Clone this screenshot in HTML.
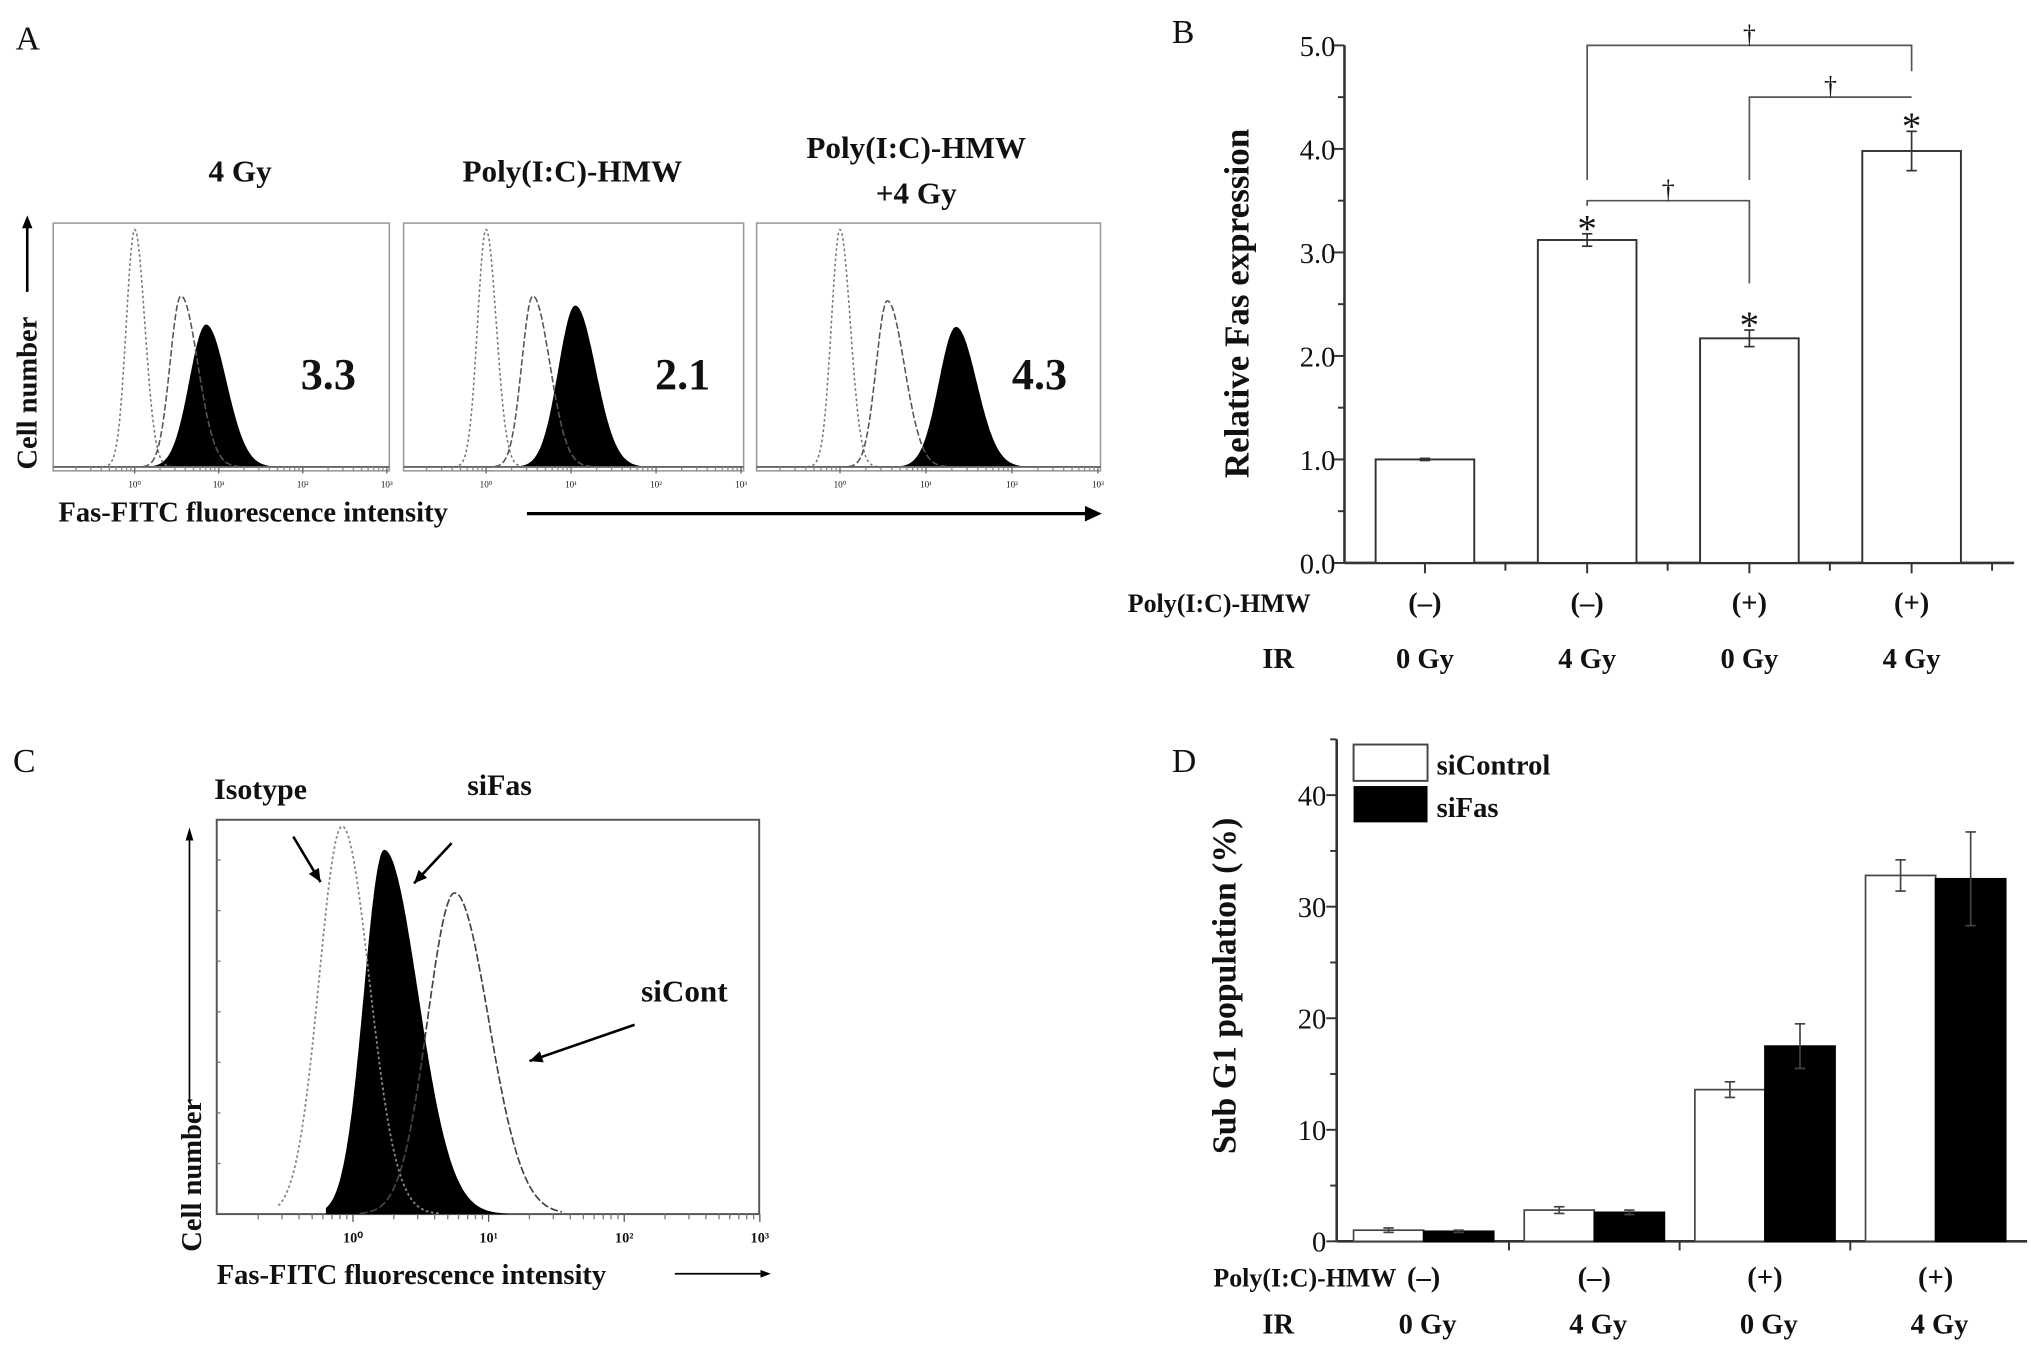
<!DOCTYPE html>
<html><head><meta charset="utf-8"><style>
html,body{margin:0;padding:0;background:#fff}
svg{display:block}
text{font-family:"Liberation Serif",serif;fill:#111}
.b{font-weight:bold}
</style></head><body>
<svg id="fig" width="2031" height="1349" viewBox="0 0 1565 1040" preserveAspectRatio="none" xmlns="http://www.w3.org/2000/svg">
<g id="pA">
<text x="12" y="38" font-size="26">A</text>
<text class="b" x="185" y="140" font-size="24" text-anchor="middle">4 Gy</text>
<text class="b" x="441" y="140" font-size="24" text-anchor="middle">Poly(I:C)-HMW</text>
<text class="b" x="706" y="122" font-size="24" text-anchor="middle">Poly(I:C)-HMW</text>
<text class="b" x="706" y="157" font-size="24" text-anchor="middle">+4 Gy</text>
<text class="b" x="0" y="0" font-size="22" transform="translate(28,362) rotate(-90)">Cell number</text>
<line x1="21" y1="225" x2="21" y2="172" stroke="#000" stroke-width="2"/>
<polygon points="17,176 25,176 21,166" fill="#000"/>
<text class="b" x="45" y="402" font-size="22">Fas-FITC fluorescence intensity</text>
<line x1="406" y1="396" x2="838" y2="396" stroke="#000" stroke-width="2.5"/>
<polygon points="836,390 836,402 849,396" fill="#000"/>
</g>
<g id="pB">
<text x="903" y="33" font-size="26">B</text>
<text class="b" x="0" y="0" font-size="27" text-anchor="middle" transform="translate(962,234) rotate(-90)">Relative Fas expression</text>
</g>
<g id="pC">
<text x="10" y="595" font-size="26">C</text>
<text class="b" x="0" y="0" font-size="22" transform="translate(155,965) rotate(-90)">Cell number</text>
<line x1="146" y1="850" x2="146" y2="646" stroke="#000" stroke-width="1.3"/>
<polygon points="143,648 149,648 146,638" fill="#000"/>
<text class="b" x="167" y="990" font-size="22">Fas-FITC fluorescence intensity</text>
<line x1="520" y1="982" x2="588" y2="982" stroke="#000" stroke-width="1.3"/>
<polygon points="586,979 586,985 594,982" fill="#000"/>
</g>
<g id="pD">
<text x="903" y="595" font-size="26">D</text>
<text class="b" x="0" y="0" font-size="26" text-anchor="middle" transform="translate(952,760) rotate(-90)">Sub G1 population (%)</text>
<rect x="1043" y="574" width="57" height="28" fill="#fff" stroke="#444" stroke-width="1.5"/>
<rect x="1043" y="606" width="57" height="28" fill="#000"/>
<text class="b" x="1107" y="597" font-size="22">siControl</text>
<text class="b" x="1107" y="630" font-size="22">siFas</text>
</g>
</svg>
<script>
const NS='http://www.w3.org/2000/svg';
function mk(p,tag,at,txt){const e=document.createElementNS(NS,tag);for(const k in at)e.setAttribute(k,at[k]);if(txt!==undefined)e.textContent=txt;p.appendChild(e);return e;}

// ---------- Panel B data ----------
const bCats=['1','2','3','4'];
const bPoly=['(–)','(–)','(+)','(+)'];
const bIR=['0 Gy','4 Gy','0 Gy','4 Gy'];
const bValues=[1.0,3.12,2.17,3.98];
const bErrors=[0.01,0.06,0.08,0.19];
const bTicks=['0.0','1.0','2.0','3.0','4.0','5.0'];
// ---------- Panel D data ----------
const dPoly=['(–)','(–)','(+)','(+)'];
const dIR=['0 Gy','4 Gy','0 Gy','4 Gy'];
const dControl=[1.0,2.8,13.6,32.8];
const dControlErr=[0.2,0.3,0.7,1.4];
const dFas=[0.9,2.6,17.5,32.5];
const dFasErr=[0.1,0.2,2.0,4.2];
const dTicks=[0,10,20,30,40];
// ---------- Panel A histogram peaks (log10 intensity, relative height) ----------
const aIsoPeak=[0.0,0.0,0.0];
const aIsoHeight=[1.0,1.0,1.0];
const aCtrlPeak=[0.55,0.55,0.55];
const aCtrlHeight=[0.72,0.72,0.7];
const aTreatPeak=[0.85,1.05,1.35];
const aTreatHeight=[0.6,0.68,0.59];
const aValues=['3.3','2.1','4.3'];
// ---------- Panel C histogram peaks ----------
const cIsoPeak=-0.08, cIsoHeight=0.99;
const cFasPeak=0.23, cFasHeight=0.93;
const cContPeak=0.75, cContHeight=0.82;

// Panel B
(function(){
 const g=document.getElementById('pB');
 const x0=1036,x1=1552,y0=434,yTop=35,vmax=5;
 const ys=v=>y0-(v/vmax)*(y0-yTop);
 const labX=i=>1098+i*125;
 mk(g,'line',{x1:x0,y1:y0,x2:x0,y2:yTop,stroke:'#333','stroke-width':2});
 mk(g,'line',{x1:x0,y1:y0,x2:x1,y2:y0,stroke:'#333','stroke-width':2});
 for(let i=0;i<=10;i++){const v=i*0.5;const y=ys(v);mk(g,'line',{x1:x0,y1:y,x2:x0-(i%2?5:8),y2:y,stroke:'#333','stroke-width':1.5});}
 bTicks.forEach(t=>{const el=mk(g,'text',{x:x0-7,y:ys(parseFloat(t))+8,'font-size':22,'text-anchor':'end'},t);
  
  });
 for(let i=0;i<4;i++){mk(g,'line',{x1:labX(i),y1:y0,x2:labX(i),y2:y0+8,stroke:'#333','stroke-width':1.5});mk(g,'line',{x1:labX(i)+62,y1:y0,x2:labX(i)+62,y2:y0+6,stroke:'#333','stroke-width':1.5});}
 mk(g,'text',{class:'b',x:1010,y:472,'font-size':20,'text-anchor':'end'},'Poly(I:C)-HMW');
 mk(g,'text',{class:'b',x:985,y:515,'font-size':22,'text-anchor':'middle'},'IR');
 bValues.forEach((v,i)=>{
  const cx=labX(i);
  const r=mk(g,'rect',{x:cx-38,y:ys(v),width:76,height:y0-ys(v),fill:'#fff',stroke:'#333','stroke-width':1.5});
  
  
  const e=bErrors[i];
  mk(g,'line',{x1:cx,y1:ys(v+e),x2:cx,y2:ys(v-e),stroke:'#333','stroke-width':1.3});
  mk(g,'line',{x1:cx-4,y1:ys(v+e),x2:cx+4,y2:ys(v+e),stroke:'#333','stroke-width':1.3});
  mk(g,'line',{x1:cx-4,y1:ys(v-e),x2:cx+4,y2:ys(v-e),stroke:'#333','stroke-width':1.3});
  if(i>0) mk(g,'text',{x:cx,y:ys(v+e)+6,'font-size':30,'text-anchor':'middle',fill:'#333'},'*');
  mk(g,'text',{class:'b',x:cx,y:472,'font-size':22,'text-anchor':'middle'},bPoly[i]);
  mk(g,'text',{class:'b',x:cx,y:515,'font-size':22,'text-anchor':'middle'},bIR[i]);
 });
 const br=[[1,3,5.0,3.7,4.75],[2,3,4.5,3.7,4.5],[1,2,3.5,3.45,2.7]];
 br.forEach(b=>{const a=labX(b[0]),c=labX(b[1]),y=ys(b[2]);
  mk(g,'polyline',{points:`${a},${ys(b[3])} ${a},${y} ${c},${y} ${c},${ys(b[4])}`,fill:'none',stroke:'#555','stroke-width':1.3});
  mk(g,'text',{x:(a+c)/2,y:y-2,'font-size':20,'text-anchor':'middle',fill:'#333'},'†');
 });
})();

// Panel D
(function(){
 const g=document.getElementById('pD');
 const x0=1030,x1=1562,y0=957,vmax=45,yTop=570;
 const ys=v=>y0-(v/vmax)*(y0-yTop);
 const gx=i=>1097+i*131.5;
 mk(g,'line',{x1:x0,y1:y0,x2:x0,y2:yTop,stroke:'#333','stroke-width':2});
 mk(g,'line',{x1:x0,y1:y0,x2:x1,y2:y0,stroke:'#333','stroke-width':2});
 for(let v=0;v<=45;v+=5){mk(g,'line',{x1:x0,y1:ys(v),x2:x0-(v%10?5:8),y2:ys(v),stroke:'#333','stroke-width':1.5});}
 dTicks.forEach(t=>{const el=mk(g,'text',{x:x0-8,y:ys(t)+8,'font-size':22,'text-anchor':'end'},String(t));
  
  });
 for(let i=1;i<4;i++){const x=(gx(i-1)+gx(i))/2;mk(g,'line',{x1:x,y1:y0,x2:x,y2:y0+7,stroke:'#333','stroke-width':1.5});}
 mk(g,'text',{class:'b',x:1076,y:992,'font-size':20,'text-anchor':'end'},'Poly(I:C)-HMW');
 mk(g,'text',{class:'b',x:985,y:1028,'font-size':22,'text-anchor':'middle'},'IR');
 const bw=54;
 function bar(cx,v,e,fill,name){
  const r=mk(g,'rect',{x:cx,y:ys(v),width:bw,height:y0-ys(v),fill:fill,stroke:fill==='#000'?'#000':'#444','stroke-width':1.3});
  
  
  const m=cx+bw/2;
  mk(g,'line',{x1:m,y1:ys(v+e),x2:m,y2:ys(v-e),stroke:'#444','stroke-width':1.3});
  mk(g,'line',{x1:m-4,y1:ys(v+e),x2:m+4,y2:ys(v+e),stroke:'#444','stroke-width':1.3});
  mk(g,'line',{x1:m-4,y1:ys(v-e),x2:m+4,y2:ys(v-e),stroke:'#444','stroke-width':1.3});
 }
 for(let i=0;i<4;i++){
  bar(gx(i)-bw,dControl[i],dControlErr[i],'#fff','bar-sicontrol-'+i);
  bar(gx(i),dFas[i],dFasErr[i],'#000','bar-sifas-'+i);
  mk(g,'text',{class:'b',x:gx(i),y:992,'font-size':22,'text-anchor':'middle'},dPoly[i]);
  mk(g,'text',{class:'b',x:gx(i)+3,y:1028,'font-size':22,'text-anchor':'middle'},dIR[i]);
 }
})();

function curve(xOf,yBase,hPx,peak,h,sl,sr,from,to){
 const pts=[];
 for(let t=from;t<=to;t+=0.01){const s=t<peak?sl:sr;const v=h*Math.exp(-Math.pow((t-peak)/s,2)/2);pts.push([xOf(t),yBase-v*hPx]);}
 return pts;
}
const P=pts=>pts.map(p=>p[0].toFixed(1)+','+p[1].toFixed(1)).join(' ');

// Panel A histograms
(function(){
 const g=document.getElementById('pA');
 const boxes=[[41,300],[311,573],[583,848]];
 const yTopB=172,yB=360;
 boxes.forEach((b,k)=>{
  const [l,r]=b;
  const fr=mk(g,'rect',{x:l,y:yTopB,width:r-l,height:yB+3-yTopB,fill:'#fff',stroke:'#999','stroke-width':1.2});
  
  
  const xOf=t=>l+(t+0.97)/4*(r-l);
  const hPx=yB-yTopB-5;
  const treat=curve(xOf,yB,hPx,aTreatPeak[k],aTreatHeight[k],0.2,0.24,aTreatPeak[k]-0.7,aTreatPeak[k]+0.8);
  const pl=mk(g,'polygon',{points:P([[treat[0][0],yB]].concat(treat,[[treat[treat.length-1][0],yB]])),fill:'#000'});
  
  
  const iso=curve(xOf,yB,hPx,aIsoPeak[k],aIsoHeight[k],0.1,0.12,-0.5,0.55);
  mk(g,'polyline',{points:P(iso),fill:'none',stroke:'#777','stroke-width':1.2,'stroke-dasharray':'2,2'});
  const ct=curve(xOf,yB,hPx,aCtrlPeak[k],aCtrlHeight[k],0.13,0.2,0.1,1.4);
  mk(g,'polyline',{points:P(ct),fill:'none',stroke:'#555','stroke-width':1.2,'stroke-dasharray':'5,2'});
  mk(g,'line',{x1:l,y1:yB,x2:r,y2:yB,stroke:'#666','stroke-width':1.5});
  for(let d=0;d<=3;d++){const x=xOf(d);mk(g,'line',{x1:x,y1:yB,x2:x,y2:yB+5,stroke:'#666'});mk(g,'text',{x:x,y:yB+16,'font-size':7,'text-anchor':'middle',fill:'#555'},'10'+['⁰','¹','²','³'][d]);
   for(let m=2;m<10;m++){if(d<3){const xm=xOf(d+Math.log10(m));mk(g,'line',{x1:xm,y1:yB,x2:xm,y2:yB+3,stroke:'#888'});}
    const xm2=xOf(d-1+Math.log10(m));if(d==0&&xm2>l)mk(g,'line',{x1:xm2,y1:yB,x2:xm2,y2:yB+3,stroke:'#888'});}
  }
  const tv=mk(g,'text',{class:'b',x:r-47,y:300,'font-size':34,'text-anchor':'middle'},aValues[k]);
  
  
 });
})();

// Panel C histogram
(function(){
 const g=document.getElementById('pC');
 const l=167,r=585,yT=632,yB=936;
 mk(g,'rect',{x:l,y:yT,width:r-l,height:yB-yT,fill:'#fff',stroke:'#555','stroke-width':1.5});
 const xOf=t=>272+t*104.5;
 const hPx=yB-yT-2;
 const f=curve(xOf,yB,hPx,cFasPeak,cFasHeight,0.15,0.25,-0.2,1.15);
 const pl=mk(g,'polygon',{points:P([[f[0][0],yB]].concat(f,[[f[f.length-1][0],yB]])),fill:'#000'});
 
 
 const iso=curve(xOf,yB,hPx,cIsoPeak,cIsoHeight,0.17,0.2,-0.55,0.65);
 const il=mk(g,'polyline',{points:P(iso),fill:'none',stroke:'#888','stroke-width':1.4,'stroke-dasharray':'2,2'});
 
 
 const ct=curve(xOf,yB,hPx,cContPeak,cContHeight,0.2,0.25,0.05,1.55);
 const cl=mk(g,'polyline',{points:P(ct),fill:'none',stroke:'#444','stroke-width':1.3,'stroke-dasharray':'6,2'});
 
 
 for(let d=-1;d<=3;d++){
  if(d>=0){const x=xOf(d);mk(g,'line',{x1:x,y1:yB,x2:x,y2:yB+6,stroke:'#555'});mk(g,'text',{class:'b',x:x,y:yB+22,'font-size':11,'text-anchor':'middle'},'10'+['⁰','¹','²','³'][d]);}
  if(d<3)for(let m=2;m<10;m++){const x=xOf(d+Math.log10(m));if(x>l)mk(g,'line',{x1:x,y1:yB,x2:x,y2:yB+4,stroke:'#777'});}
 }
 for(let i=1;i<8;i++){const y=yB-i*39;mk(g,'line',{x1:l,y1:y,x2:l+3,y2:y,stroke:'#777'});}
 const arrows=[[226,645,247,680],[348,650,319,681],[489,790,408,818]];
 arrows.forEach(a=>{
  mk(g,'line',{x1:a[0],y1:a[1],x2:a[2],y2:a[3],stroke:'#000','stroke-width':2});
  const ang=Math.atan2(a[3]-a[1],a[2]-a[0]);const L=10,W=4.5;
  const bx=a[2]-L*Math.cos(ang),by=a[3]-L*Math.sin(ang);
  mk(g,'polygon',{points:`${a[2]},${a[3]} ${bx-W*Math.sin(ang)},${by+W*Math.cos(ang)} ${bx+W*Math.sin(ang)},${by-W*Math.cos(ang)}`,fill:'#000'});
 });
 const t1=mk(g,'text',{class:'b',x:165,y:616,'font-size':23},'Isotype');
 
 
 const t2=mk(g,'text',{class:'b',x:360,y:613,'font-size':23},'siFas');
 
 
 const t3=mk(g,'text',{class:'b',x:494,y:772,'font-size':24},'siCont');
 
 
})();
</script>
</body></html>
